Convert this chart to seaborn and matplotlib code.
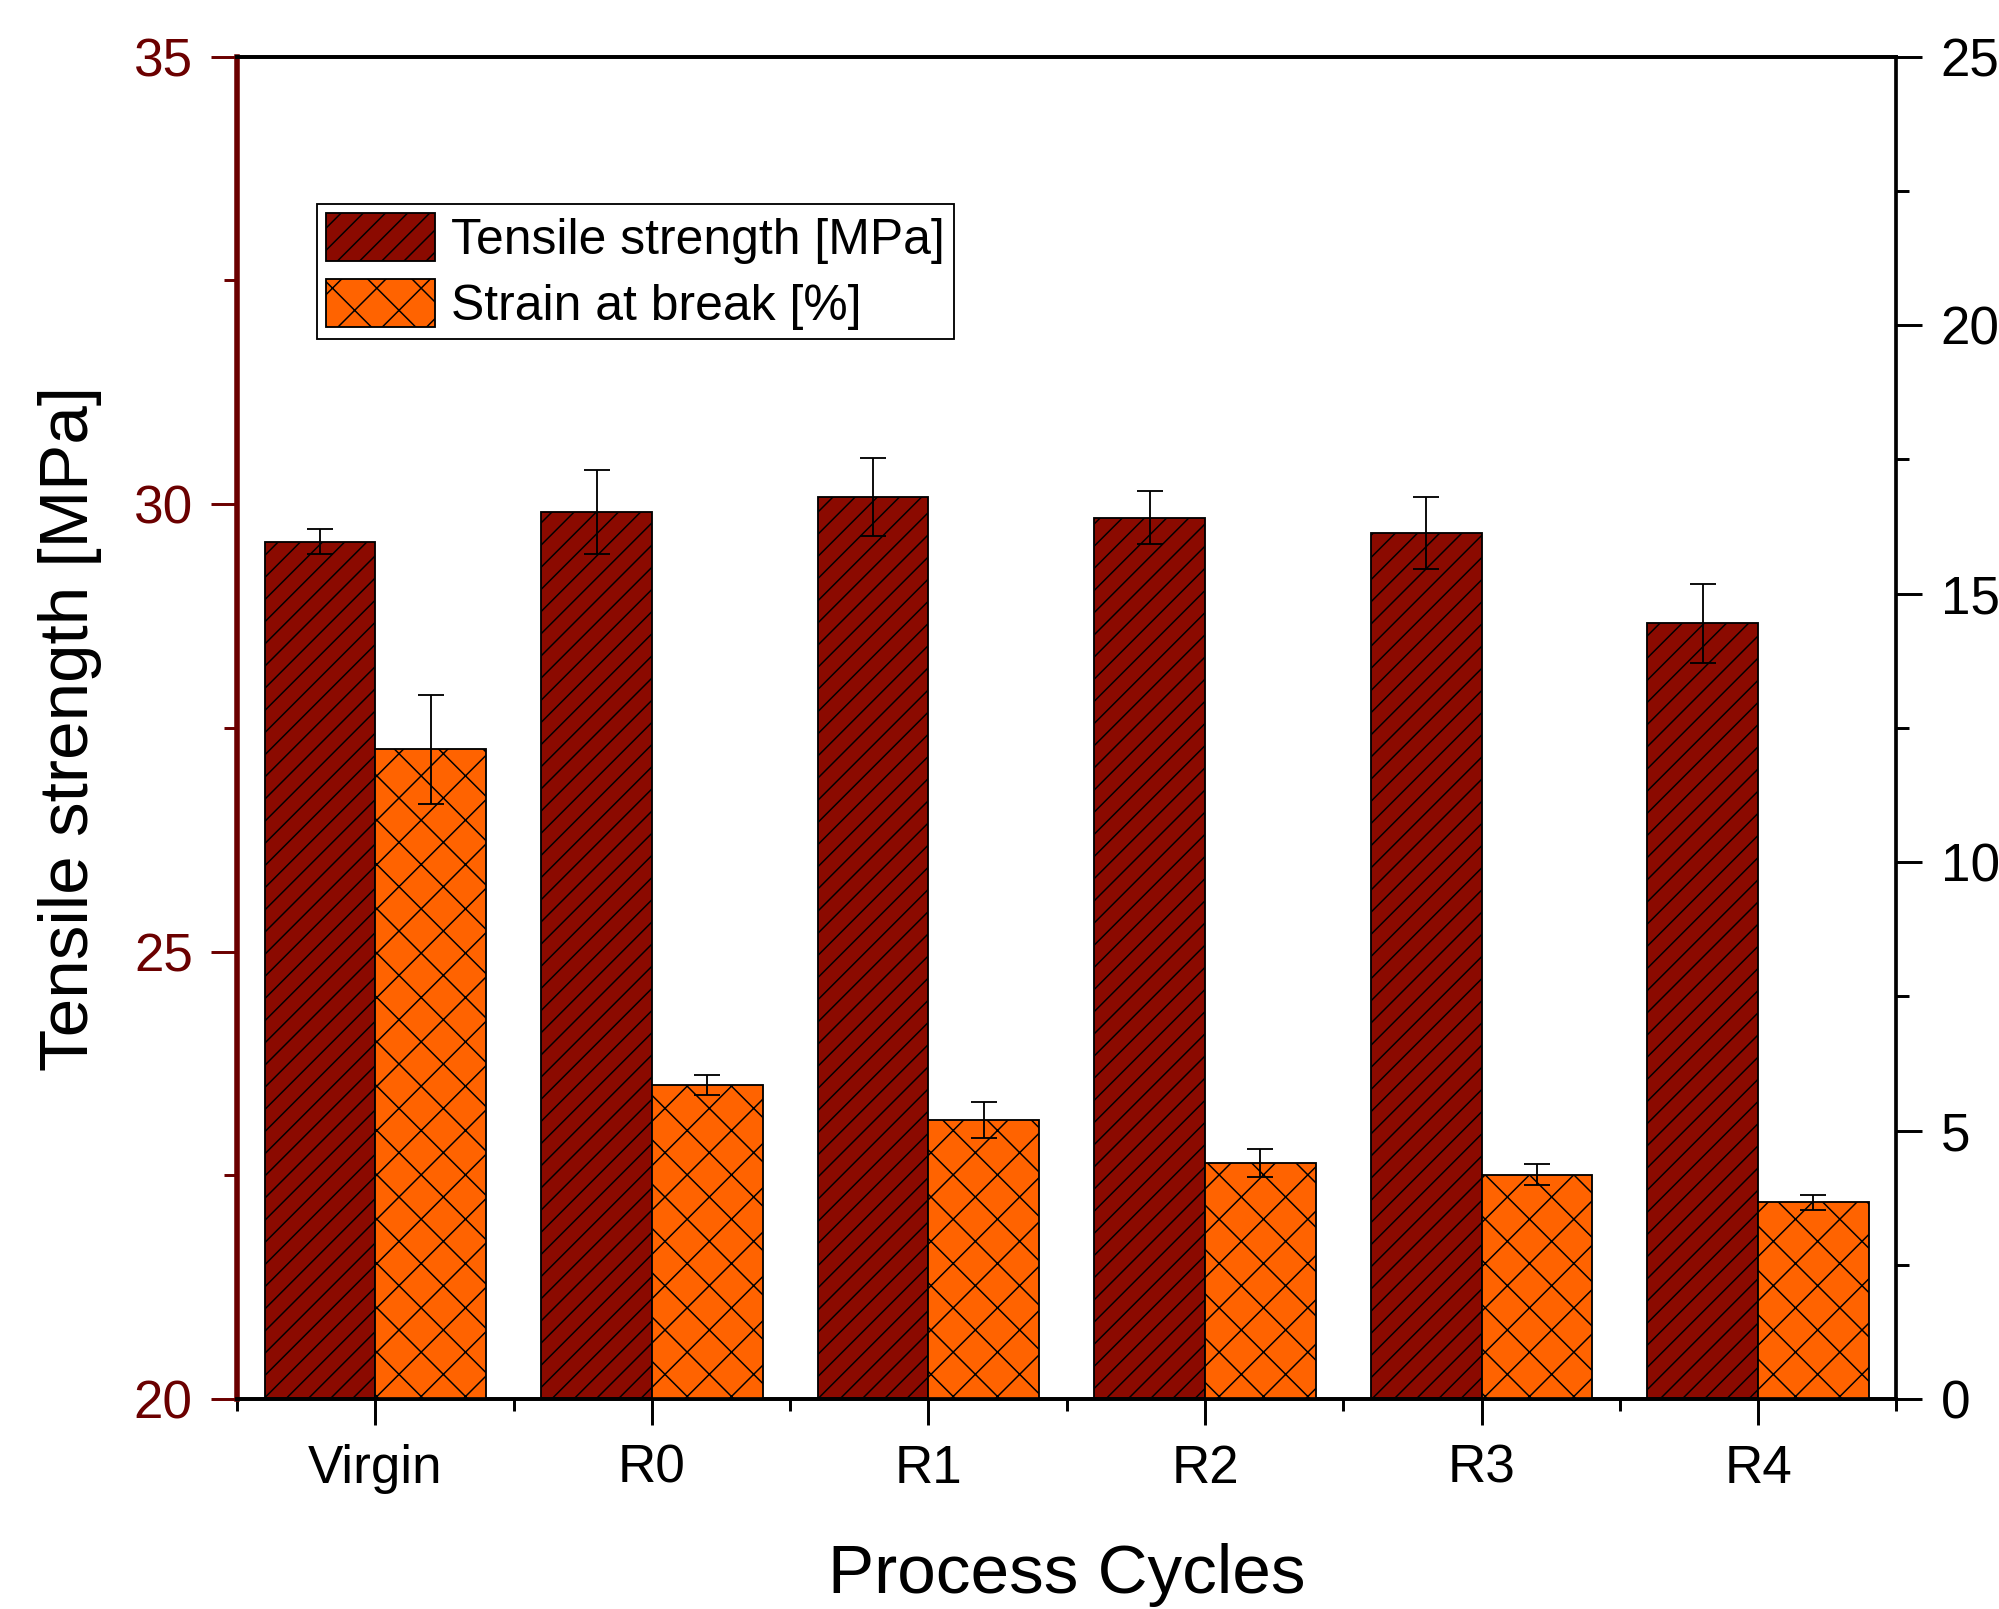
import numpy as np
import pandas as pd
import matplotlib
matplotlib.use("Agg")
import matplotlib.pyplot as plt
import seaborn as sns
from matplotlib.patches import Patch
from matplotlib.ticker import MultipleLocator, FixedLocator, NullFormatter

# ---- data ----
cycles = ["Virgin", "R0", "R1", "R2", "R3", "R4"]
tensile = [29.58, 29.91, 30.08, 29.85, 29.68, 28.67]
tensile_err = [0.14, 0.47, 0.44, 0.30, 0.40, 0.44]
strain = [12.10, 5.85, 5.20, 4.40, 4.18, 3.66]
strain_err = [1.02, 0.19, 0.33, 0.26, 0.19, 0.14]
series = ["Tensile strength [MPa]", "Strain at break [%]"]

colors = {series[0]: "#8B0A00", series[1]: "#FF6300"}
hatches = {series[0]: "//", series[1]: "x"}
left_col = "#6B0000"

sns.set_theme(style="white")
plt.rcParams["font.family"] = ["Liberation Sans", "DejaVu Sans"]
plt.rcParams["text.color"] = "black"
plt.rcParams["axes.labelcolor"] = "black"
plt.rcParams["hatch.linewidth"] = 0.8
plt.rcParams["hatch.color"] = "black"

DPI = 133
fig = plt.figure(figsize=((1999 + 0.3) / DPI, (1609 + 0.3) / DPI), dpi=DPI)
ax = fig.add_axes([0.1186, 0.1305, 0.8299, 0.8341])
ax2 = ax.twinx()

df_t = pd.DataFrame({"cycle": cycles, "value": tensile, "series": series[0]})
df_s = pd.DataFrame({"cycle": cycles, "value": strain, "series": series[1]})

common = dict(x="cycle", y="value", hue="series", hue_order=series, order=cycles,
              palette=colors, width=0.8, dodge=True, edgecolor="black",
              linewidth=1.0, legend=False, errorbar=None, saturation=1)
sns.barplot(data=df_t, ax=ax, **common)
sns.barplot(data=df_s, ax=ax2, **common)

for a, name, vals, errs in [(ax, series[0], tensile, tensile_err),
                            (ax2, series[1], strain, strain_err)]:
    bars = sorted([p for p in a.patches if p.get_height() > 0], key=lambda p: p.get_x())
    for p in bars:
        p.set_hatch(hatches[name])
    xc = [p.get_x() + p.get_width() / 2 for p in bars]
    a.errorbar(xc, vals, yerr=errs, fmt="none", ecolor="black", elinewidth=1.0,
               capsize=7, capthick=1.0, zorder=5)

# ---- axes limits & ticks ----
ax.set_xlim(-0.5, len(cycles) - 0.5)
ax.set_ylim(20, 35)
ax2.set_ylim(0, 25)

ax.yaxis.set_major_locator(MultipleLocator(5))
ax.yaxis.set_minor_locator(MultipleLocator(2.5))
ax2.yaxis.set_major_locator(MultipleLocator(5))
ax2.yaxis.set_minor_locator(MultipleLocator(2.5))
ax.xaxis.set_minor_locator(FixedLocator(np.arange(len(cycles) + 1) - 0.5))
ax.xaxis.set_minor_formatter(NullFormatter())

ax.tick_params(axis="y", which="both", left=True, right=False, direction="out",
               color=left_col, labelcolor=left_col, width=1.6)
ax.tick_params(axis="y", which="major", length=14, labelsize=28.7, pad=10)
ax.tick_params(axis="y", which="minor", length=7)
ax.tick_params(axis="x", which="both", bottom=True, top=False, direction="out",
               color="black", width=1.6)
ax.tick_params(axis="x", which="major", length=14, labelsize=28.7, pad=10, labelcolor="black")
ax.tick_params(axis="x", which="minor", length=6.5)

ax2.tick_params(axis="y", which="both", right=True, left=False, direction="out",
                color="black", labelcolor="black", width=1.6)
ax2.tick_params(axis="y", which="major", length=14, labelsize=28.7, pad=10)
ax2.tick_params(axis="y", which="minor", length=7)

# ---- spines ----
for a in (ax, ax2):
    for s in a.spines.values():
        s.set_linewidth(2.0)
        s.set_color("black")
        s.set_visible(True)
ax2.spines["left"].set_visible(False)
ax.spines["right"].set_visible(False)
ax.spines["left"].set_color(left_col)
ax.spines["left"].set_linewidth(3.0)

# ---- labels ----
ax.set_xlabel("Process Cycles", fontsize=37.5, labelpad=27, color="black")
ax.set_ylabel("Tensile strength [MPa]", fontsize=37.5, labelpad=17, color="black")
ax2.set_ylabel("")
ax2.set_xlabel("")

# ---- legend ----
handles = [Patch(facecolor=colors[s], edgecolor="black", hatch=hatches[s], linewidth=1.0)
           for s in series]
leg = ax2.legend(handles, series, loc="upper left", bbox_to_anchor=(0.048, 0.890),
                 borderaxespad=0, frameon=True, fancybox=False, edgecolor="black",
                 framealpha=1, fontsize=27, handlelength=2.2, handleheight=1.1,
                 handletextpad=0.32, borderpad=0.18, labelspacing=0.3)
leg.get_frame().set_linewidth(1.0)
for t in leg.get_texts():
    t.set_color("black")

fig.savefig("out.png", dpi=DPI)
